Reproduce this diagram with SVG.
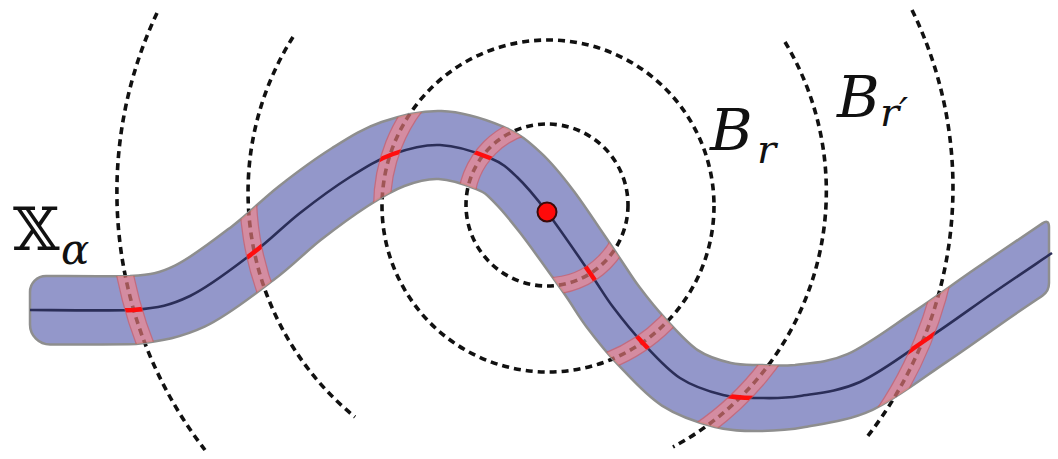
<svg xmlns="http://www.w3.org/2000/svg" xmlns:xlink="http://www.w3.org/1999/xlink" width="1058" height="459" viewBox="0 0 1058 459">
<style>
.dash{fill:none;stroke:#111;stroke-width:3.6;stroke-dasharray:7 5}
.tube{fill:#9397ca;stroke:#8e8e8e;stroke-width:2.5}
.core{fill:none;stroke:#2b2e58;stroke-width:2.6}
.bandEdge{fill:none;stroke:#e0504f;stroke-width:18}
.bandFill{fill:none;stroke:#ff8585;stroke-width:15.5}
.maskStroke{fill:none;stroke:#fff;stroke-width:16}
.lbl{font-family:'DejaVu Serif',serif;font-style:italic;fill:#111}
</style>
<defs>
<path id="tubePath" d="M46,276 C60,276 108.4,276.5 130,276.1 C151.57,274.32 158.32,273.67 175.4,265.3 C192.48,256.93 215.23,239.08 232.5,225.9 C249.77,212.72 262.45,199.13 279,186.2 C295.55,173.27 314.7,159 331.8,148.3 C348.9,137.6 363.33,128.22 381.6,122 C399.87,115.78 421.15,110.23 441.4,111 C461.65,111.77 486.6,119.72 503.1,126.6 C519.6,133.48 528.57,141.5 540.4,152.3 C552.23,163.1 561.32,174.42 574.1,191.4 C586.88,208.38 606.22,238.25 617.1,254.2 C627.98,270.15 631.25,276.23 639.4,287.1 C647.55,297.97 656.22,308.85 666,319.4 C675.78,329.95 687.27,343.13 698.1,350.4 C708.93,357.67 720.62,360.57 731,363 C741.38,365.43 749.73,364.68 760.4,365 C771.07,365.32 780.5,366 795,364.9 C809.5,363.1 827.68,363 847.4,354.2 C867.12,345.4 891.87,326.42 913.3,312.1 C934.73,297.78 954.48,283.08 976,268.3 C997.52,253.52 1031.33,230.88 1042.4,223.4 Q1049,218.9 1049,227 L1049,283 Q1049,291.2 1042.4,295.7 C1037,299.37 1025.95,306.67 1010,317.7 C994.05,328.73 969.6,346.55 946.7,361.9 C923.8,377.25 896.22,398.93 872.6,409.8 C848.98,420.67 823.83,423.57 805,427.1 C786.17,430.63 774.6,431.02 759.6,431 C744.6,430.98 731.28,431.23 715,427 C698.72,422.77 678.07,416 661.9,405.6 C645.73,395.2 630.55,377.72 618,364.6 C605.45,351.48 595.78,339.03 586.6,326.9 C577.42,314.77 574.02,307.52 562.9,291.8 C551.78,276.08 531.45,247.62 519.9,232.6 C508.35,217.58 500.77,208.9 493.6,201.7 C486.43,194.5 486.07,193.18 476.9,189.4 C467.73,185.62 450.68,179.57 438.6,179 C426.52,178.43 416.13,181.55 404.4,186 C392.67,190.45 382.1,196.73 368.2,205.7 C354.3,214.67 336.78,227.4 321,239.8 C305.22,252.2 292.9,265.62 273.5,280.1 C254.1,294.58 227.52,316.07 204.6,326.7 C181.68,337.33 162.43,341.02 136,343.9 C110,344.5 64,344.5 50,344.5 A20,20 0 0 1 30,324.5 L30,292 A16,16 0 0 1 46,276 Z"/>
<path id="corePath" d="M30,310 C47.2,310 106,311 133,310 C159.7,307.7 170,305.5 190,296 C210,286.5 234.7,266.8 253,253 C271.3,239.2 283.8,225.7 300,213 C316.2,200.3 334.5,186.8 350,177 C365.5,167.2 378,159.3 393,154 C408,148.7 423.8,144.3 440,145 C456.2,145.7 477.2,152.7 490,158 C502.8,163.3 507.5,168 517,177 C526.5,186 534.8,196 547,212 C559.2,228 579,257.2 590,273 C601,288.8 604.3,295.5 613,307 C621.7,318.5 630.8,330.2 642,342 C653.2,353.8 666.5,369.2 680,378 C693.5,386.8 709.7,391.7 723,395 C736.3,398.3 747.2,397.8 760,398 C772.8,398.2 783.3,398.7 800,396 C816.7,393.3 838.3,391.8 860,382 C881.7,372.2 907.8,351.8 930,337 C952.2,322.2 972.7,307 993,293 C1013.3,279 1042.2,259.7 1052,253"/>
<g id="rings">
<circle cx="547" cy="205" r="81"/>
<circle cx="548" cy="206" r="166"/>
<path d="M293,37 A290,290 0 0 0 355,417"/>
<path d="M785,42 A290,290 0 0 1 673,447"/>
<path d="M157,13 A421,421 0 0 0 205,450"/>
<path d="M912,10 A405,405 0 0 1 867,437"/>
</g>
<clipPath id="tubeClip"><use xlink:href="#tubePath"/></clipPath>
<mask id="bandMask" maskUnits="userSpaceOnUse" x="0" y="0" width="1058" height="459">
<rect x="0" y="0" width="1058" height="459" fill="#000"/>
<use xlink:href="#rings" class="maskStroke"/>
</mask>
</defs>
<rect width="1058" height="459" fill="#fff"/>
<g id="dashed-balls">
<use xlink:href="#rings" class="dash"/>
</g>
<g id="tube-X-alpha">
<use xlink:href="#tubePath" class="tube"/>
<g clip-path="url(#tubeClip)">
<use xlink:href="#rings" class="dash"/>
</g>
<use xlink:href="#corePath" class="core"/>
</g>
<g id="bands" clip-path="url(#tubeClip)">
<g opacity="0.6">
<use xlink:href="#rings" class="bandEdge"/>
<use xlink:href="#rings" class="bandFill"/>
</g>
</g>
<g id="core-in-bands" mask="url(#bandMask)">
<use xlink:href="#corePath" fill="none" stroke="#ff0d0d" stroke-width="4.5"/>
</g>
<g id="center-point">
<circle cx="547" cy="212" r="9.5" fill="#ff0a0a" stroke="#3a0a0a" stroke-width="2"/>
</g>
<g id="labels">
<text x="13" y="250" font-size="60" font-family="DejaVu Serif, serif" fill="#111">𝕏</text>
<text class="lbl" x="61" y="264" font-size="42">α</text>
<text class="lbl" x="710" y="150" font-size="58">B</text>
<text class="lbl" x="757" y="163" font-size="40">r</text>
<text class="lbl" x="837" y="117" font-size="58">B</text>
<text class="lbl" x="880" y="126" font-size="40">r′</text>
</g>
</svg>
